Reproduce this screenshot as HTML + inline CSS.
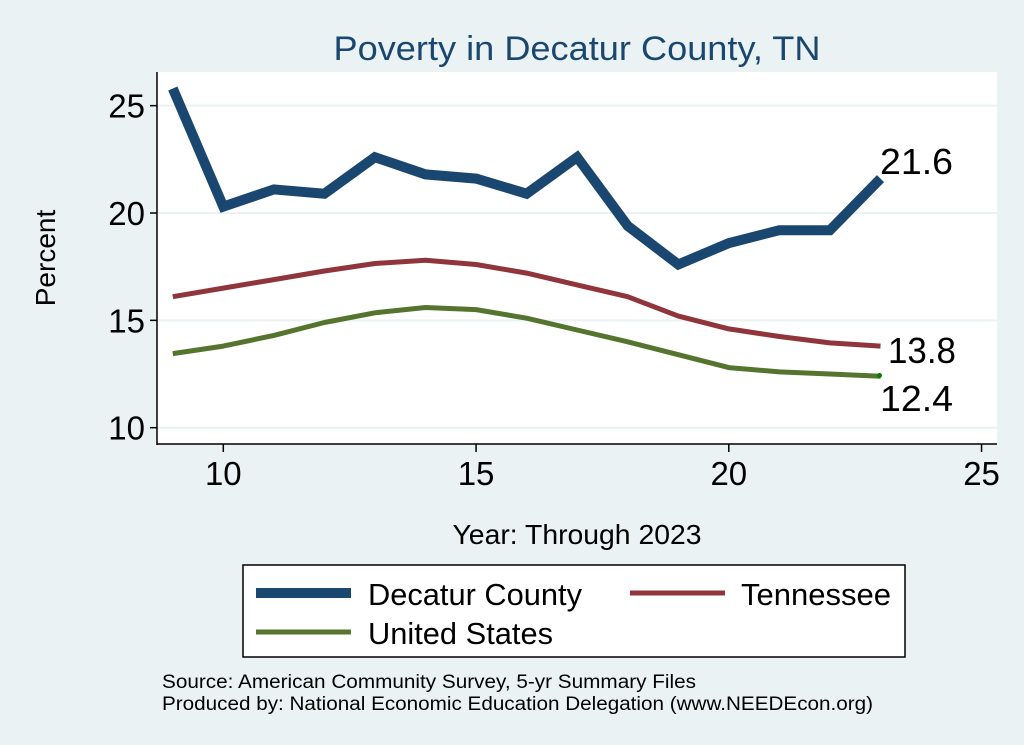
<!DOCTYPE html>
<html><head><meta charset="utf-8"><style>
body{margin:0;background:#eaf2f3;}
svg{display:block;font-family:"Liberation Sans",Arial,sans-serif;}
</style></head><body>
<svg id="s" width="1024" height="745" viewBox="0 0 1024 745">
<rect x="0" y="0" width="1024" height="745" fill="#eaf2f3"/>
<rect x="157" y="72" width="840" height="372" fill="#fff"/>
<g id="grid" stroke="#eaf2f3" stroke-width="2"></g>
<text x="577" y="60" font-size="34" fill="#1a476f" text-anchor="middle" textLength="487" lengthAdjust="spacingAndGlyphs">Poverty in Decatur County, TN</text>
<line x1="157" y1="72" x2="157" y2="445" stroke="#000" stroke-width="1.5"/>
<line x1="157" y1="444" x2="997" y2="444" stroke="#000" stroke-width="1.5"/>
<g id="ticks"></g>
<g id="lines" fill="none" stroke-linejoin="miter"></g>
<text x="880" y="174" font-size="36" textLength="73" lengthAdjust="spacingAndGlyphs">21.6</text>
<text x="888" y="363" font-size="36" textLength="68" lengthAdjust="spacingAndGlyphs">13.8</text>
<text x="880" y="411" font-size="36" textLength="73" lengthAdjust="spacingAndGlyphs">12.4</text>
<circle cx="879.5" cy="375.5" r="2.5" fill="#008000"/>
<text x="577" y="544" font-size="28" text-anchor="middle" textLength="249" lengthAdjust="spacingAndGlyphs">Year: Through 2023</text>
<text transform="translate(55,258) rotate(-90)" font-size="28" text-anchor="middle">Percent</text>
<rect x="243" y="565" width="662" height="92" fill="#fff" stroke="#000" stroke-width="1.5"/>
<line x1="256" y1="593" x2="351" y2="593" stroke="#1a476f" stroke-width="10"/>
<text x="368" y="605" font-size="31" textLength="214" lengthAdjust="spacingAndGlyphs">Decatur County</text>
<line x1="630" y1="593" x2="725" y2="593" stroke="#90353b" stroke-width="5"/>
<text x="741" y="605" font-size="31" textLength="150" lengthAdjust="spacingAndGlyphs">Tennessee</text>
<line x1="256" y1="632" x2="351" y2="632" stroke="#55752f" stroke-width="5"/>
<text x="368" y="644" font-size="31" textLength="185" lengthAdjust="spacingAndGlyphs">United States</text>
<text x="162" y="688" font-size="19" textLength="534" lengthAdjust="spacingAndGlyphs">Source: American Community Survey, 5-yr Summary Files</text>
<text x="162" y="710" font-size="19" textLength="711" lengthAdjust="spacingAndGlyphs">Produced by: National Economic Education Delegation (www.NEEDEcon.org)</text>
</svg>
<script>
var NS="http://www.w3.org/2000/svg";
function X(t){return 223.3+(t-10)*50.55;}
function Y(v){return 427.7-(v-10)*21.47;}
function el(p,n,a){var e=document.createElementNS(NS,n);for(var k in a)e.setAttribute(k,a[k]);p.appendChild(e);return e;}
var g=document.getElementById("grid"),tk=document.getElementById("ticks");
[10,15,20,25].forEach(function(v){
 el(g,"line",{x1:158,x2:997,y1:Y(v),y2:Y(v)});
 el(tk,"line",{x1:150,x2:157,y1:Y(v),y2:Y(v),stroke:"#000","stroke-width":1.5});
 var t=el(tk,"text",{x:145,y:Y(v)+12,"font-size":33,"text-anchor":"end"});t.textContent=v;
 el(tk,"line",{x1:X(v),x2:X(v),y1:444,y2:452,stroke:"#000","stroke-width":1.5});
 var u=el(tk,"text",{x:X(v),y:485,"font-size":33,"text-anchor":"middle"});u.textContent=v;
});
var d=[25.8,20.3,21.1,20.9,22.6,21.8,21.6,20.9,22.6,19.4,17.6,18.6,19.2,19.2,21.6];
var tn=[16.1,16.5,16.9,17.3,17.65,17.8,17.6,17.2,16.65,16.1,15.2,14.6,14.25,13.95,13.8];
var us=[13.45,13.8,14.3,14.9,15.35,15.6,15.5,15.1,14.55,14.0,13.4,12.8,12.6,12.5,12.4];
function pts(a){return a.map(function(v,i){return X(9+i).toFixed(1)+","+Y(v).toFixed(1);}).join(" ");}
var L=document.getElementById("lines");
el(L,"polyline",{points:pts(us),stroke:"#55752f","stroke-width":5,"stroke-linejoin":"round"});
el(L,"polyline",{points:pts(tn),stroke:"#90353b","stroke-width":5,"stroke-linejoin":"round"});
el(L,"polyline",{points:pts(d),stroke:"#1a476f","stroke-width":10});
</script>
</body></html>
